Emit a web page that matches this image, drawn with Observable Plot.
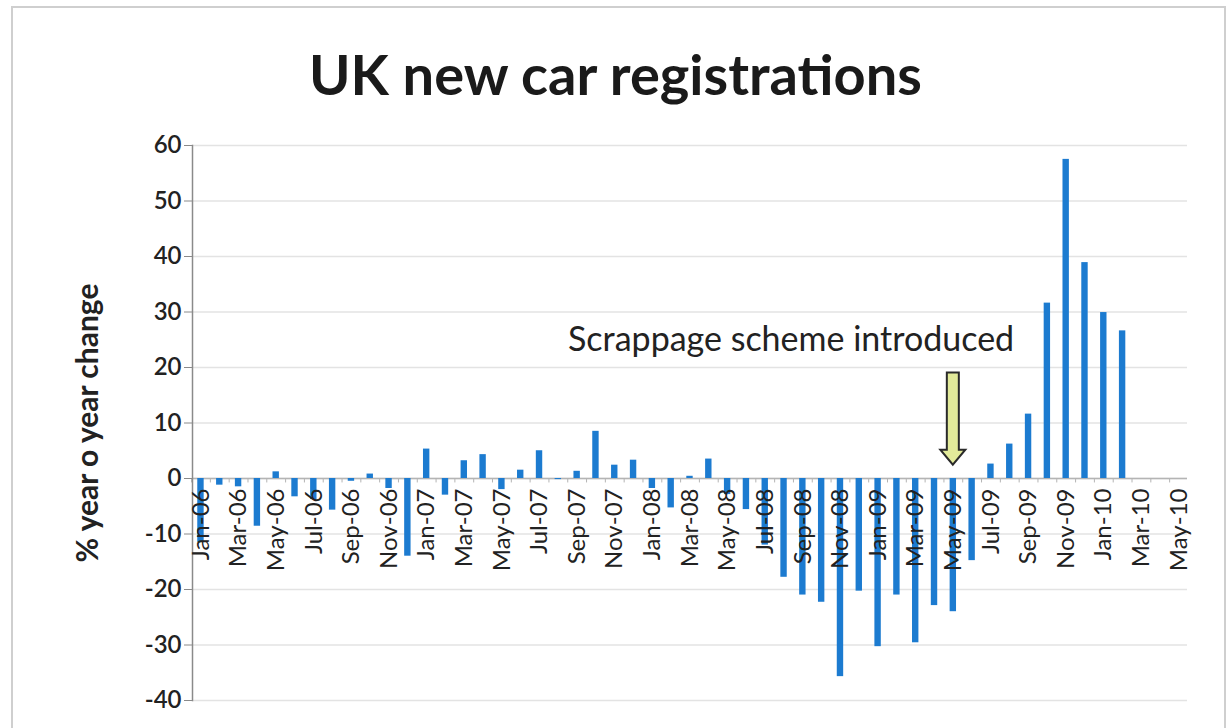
<!DOCTYPE html>
<html><head><meta charset="utf-8">
<script src="https://cdn.jsdelivr.net/npm/d3@7"></script>
<script src="https://cdn.jsdelivr.net/npm/@observablehq/plot@0.6"></script>
<style>
body{margin:0;background:#fff;}
#chart{position:relative;width:1231px;height:728px;overflow:hidden;font-family:Lato,"Open Sans",sans-serif;background:#fff;}
#border{position:absolute;left:11px;top:6px;width:1215px;height:740px;border:2px solid #cfcfcf;box-sizing:border-box;}
#title{position:absolute;left:0;width:1231px;top:46px;text-align:center;font-size:56px;font-weight:700;line-height:56px;color:#1a1a1a;}
#plot{position:absolute;left:0;top:120px;}
</style></head>
<body>
<div id="chart"><div id="border"></div><div id="title">UK new car registrations</div><div id="plot"></div></div>
<script>
const months = [
  "Jan-06","Feb-06","Mar-06","Apr-06","May-06","Jun-06","Jul-06","Aug-06","Sep-06","Oct-06","Nov-06","Dec-06",
  "Jan-07","Feb-07","Mar-07","Apr-07","May-07","Jun-07","Jul-07","Aug-07","Sep-07","Oct-07","Nov-07","Dec-07",
  "Jan-08","Feb-08","Mar-08","Apr-08","May-08","Jun-08","Jul-08","Aug-08","Sep-08","Oct-08","Nov-08","Dec-08",
  "Jan-09","Feb-09","Mar-09","Apr-09","May-09","Jun-09","Jul-09","Aug-09","Sep-09","Oct-09","Nov-09","Dec-09",
  "Jan-10","Feb-10","Mar-10","Apr-10","May-10"
];
const yoyChange = [
  -11.5, -1.2, -1.5, -8.6, 1.2, -3.3, -3.8, -5.7, -0.5, 0.8, -1.8, -14.0,
  5.3, -3.0, 3.2, 4.3, -2.0, 1.5, 5.0, -0.2, 1.3, 8.5, 2.4, 3.3,
  -1.8, -5.3, 0.4, 3.5, -2.9, -5.6, -12.0, -17.8, -21.0, -22.3, -35.7, -20.3,
  -30.3, -21.0, -29.6, -22.9, -24.0, -14.8, 2.6, 6.2, 11.6, 31.6, 57.5, 38.9,
  29.9, 26.6, null, null, null
];
const xTickLabels = months.filter((m, i) => i % 2 === 0);
const yTicks = [-40, -30, -20, -10, 0, 10, 20, 30, 40, 50, 60];
const yLabel = "% year o year change";
const annotation = [{month: "Jun-09", value: 25, text: "Scrappage scheme introduced"}];
const arrow = {month: "May-09", from: 19, to: 2.4};

const W = 1231, H = 608, mL = 192, mR = 44, mT = 25, mB = 28;
const padIn = 0.66, padOut = 0.28;
const step = (W - mL - mR) / (months.length - padIn + 2 * padOut);

const data = months.map((m, i) => ({month: m, value: yoyChange[i]})).filter(d => d.value != null);

function arrowMark(index, scales) {
  const x = scales.x;
  const bw = typeof x.bandwidth === "function" ? x.bandwidth() : (x.bandwidth ?? 0);
  const cx = x(arrow.month) + bw / 2;
  const y0 = scales.y(arrow.from), y1 = scales.y(arrow.to);
  const sw = 6, hw = 12.5, hl = 15;
  const p = d3.path();
  p.moveTo(cx - sw, y0); p.lineTo(cx + sw, y0); p.lineTo(cx + sw, y1 - hl);
  p.lineTo(cx + hw, y1 - hl); p.lineTo(cx, y1); p.lineTo(cx - hw, y1 - hl);
  p.lineTo(cx - sw, y1 - hl); p.closePath();
  const el = d3.create("svg:path").attr("d", p.toString())
    .attr("fill", "#e2ea9a").attr("stroke", "#2a2a2a").attr("stroke-width", 2)
    .attr("stroke-linejoin", "miter");
  return el.node();
}

const chart = Plot.plot({
  width: W, height: H,
  marginLeft: mL, marginRight: mR, marginTop: mT, marginBottom: mB,
  style: {fontFamily: "Lato, 'Open Sans', sans-serif", background: "transparent", color: "#222"},
  x: {type: "band", domain: months, paddingInner: padIn, paddingOuter: padOut, axis: null},
  y: {domain: [-40, 60], axis: null},
  marks: [
    Plot.ruleY(yTicks, {stroke: "#e3e3e3", strokeWidth: 1.5}),
    Plot.ruleY([0], {stroke: "#b4b4b4", strokeWidth: 1.5}),
    Plot.ruleX(months, {x: d => d, y1: 0, y2: -0.8, dx: -step / 2, stroke: "#b4b4b4", strokeWidth: 1}),
    Plot.barY(data, {x: "month", y: "value", fill: "#1c7bd0"}),
    Plot.axisY(yTicks, {tickSize: 8, tickPadding: 3, fontSize: 24, fontWeight: 600, stroke: "#8a8a8a", fill: "#222", label: null, tickFormat: d => String(d)}),
    Plot.frame({anchor: "left", stroke: "#8a8a8a", strokeWidth: 1.5}),
    Plot.text(xTickLabels, {x: d => d, y: 0, rotate: -90, textAnchor: "end", dy: 10, fontSize: 24, fill: "#222"}),
    Plot.text([yLabel], {frameAnchor: "left", textAnchor: "middle", rotate: -90, dx: -104, fontSize: 30, fontWeight: 700, fill: "#222"}),
    Plot.text(annotation, {x: "month", y: "value", text: "text", textAnchor: "end", dx: 42, fontSize: 34, fill: "#222"}),
    arrowMark
  ]
});
document.getElementById("plot").appendChild(chart);
</script>
</body></html>
